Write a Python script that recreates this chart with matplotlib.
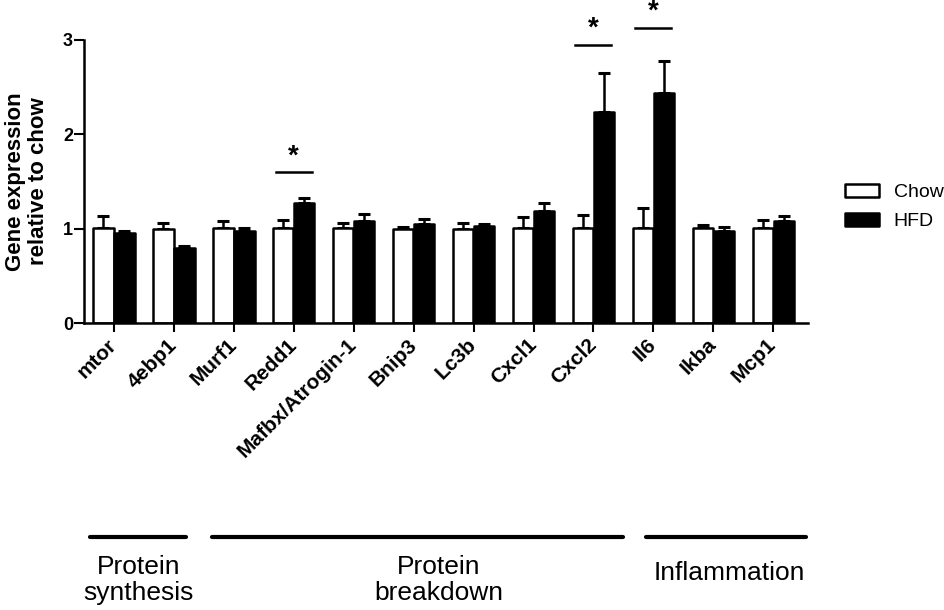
import numpy as np
import matplotlib
matplotlib.use('Agg')
import matplotlib.pyplot as plt
import matplotlib.transforms as mtransforms

plt.rcParams['font.family'] = ['Liberation Sans', 'DejaVu Sans']

genes = ['mtor', '4ebp1', 'Murf1', 'Redd1', 'Mafbx/Atrogin-1', 'Bnip3',
         'Lc3b', 'Cxcl1', 'Cxcl2', 'Il6', 'Ikba', 'Mcp1']
chow = [1.01, 1.00, 1.01, 1.01, 1.01, 1.00, 1.00, 1.01, 1.01, 1.01, 1.01, 1.01]
chow_err = [0.12, 0.06, 0.07, 0.08, 0.05, 0.02, 0.06, 0.11, 0.13, 0.21, 0.03, 0.08]
hfd = [0.95, 0.80, 0.98, 1.27, 1.08, 1.05, 1.03, 1.19, 2.24, 2.44, 0.98, 1.08]
hfd_err = [0.02, 0.02, 0.03, 0.06, 0.08, 0.05, 0.02, 0.08, 0.41, 0.34, 0.04, 0.05]

# significant genes and the height of their bracket line
sig_genes = [3, 8, 9]
sig_line_y = [1.60, 2.95, 3.13]

groups = ['Protein\nsynthesis', 'Protein\nbreakdown', 'Inflammation']
group_start = [0, 2, 9]
group_end = [1, 8, 11]

x = np.arange(len(genes))
w = 0.34
lw = 1.8

fig = plt.figure(figsize=(9.45, 6.1), dpi=100)
ax = fig.add_axes([84/945, 1-323/610, (808-84)/945, (323-40)/610])

b1 = ax.bar(x - 0.175, chow, w, color='white', edgecolor='black', linewidth=lw,
            label='Chow', zorder=2)
b2 = ax.bar(x + 0.175, hfd, w, color='black', edgecolor='black', linewidth=lw,
            label='HFD', zorder=2)
for p in list(b1) + list(b2):
    p.set_joinstyle('round')
ax.errorbar(x - 0.175, chow, yerr=[np.zeros(len(chow)), chow_err], fmt='none',
            ecolor='black', elinewidth=lw, capsize=4, capthick=2.2, zorder=1)
ax.errorbar(x + 0.175, hfd, yerr=[np.zeros(len(hfd)), hfd_err], fmt='none',
            ecolor='black', elinewidth=lw, capsize=4, capthick=2.2, zorder=1)

for i, yl in zip(sig_genes, sig_line_y):
    ax.plot([i - 0.3, i + 0.3], [yl, yl], color='black', lw=1.8, clip_on=False)
    ax.text(i, yl + 0.03, '*', ha='center', va='bottom', fontsize=20,
            fontweight='bold', clip_on=False)

ax.set_xlim(-0.5, 11.58)
ax.set_ylim(0, 3)
ax.set_yticks([0, 1, 2, 3])
ax.set_xticks(x)
ax.set_xticklabels(genes, rotation=45, ha='right', va='center',
                   rotation_mode='anchor', fontsize=15, fontweight='bold')
for lab in ax.get_yticklabels():
    lab.set_fontweight('bold')
    lab.set_fontsize(13)
ax.tick_params(axis='x', length=6.5, width=1.5, pad=7)
ax.tick_params(axis='y', length=7, width=1.5, pad=1)
for s in ['top', 'right']:
    ax.spines[s].set_visible(False)
for s in ['left', 'bottom']:
    ax.spines[s].set_linewidth(1.8)

ax.set_ylabel('Gene expression\nrelative to chow', fontsize=16,
              fontweight='bold', linespacing=1.15)
ax.yaxis.set_label_coords(-0.048, 0.5)

leg = ax.legend(loc='center left', bbox_to_anchor=(845/945, 1-207/610),
                bbox_transform=fig.transFigure, frameon=False, fontsize=14,
                handlelength=1.75, handleheight=0.65, handletextpad=0.75,
                labelspacing=0.6, borderpad=0, borderaxespad=0)
for h in leg.legend_handles:
    h.set_joinstyle('round')

# group brackets under the gene labels
trans = mtransforms.blended_transform_factory(ax.transData, fig.transFigure)
pad_l = [0.4, 0.37, 0.12]
pad_r = [0.21, 0.5, 0.55]
for name, a, b, pl, pr in zip(groups, group_start, group_end, pad_l, pad_r):
    ax.plot([a - pl, b + pr], [1-537/610, 1-537/610], color='black', lw=3,
            solid_capstyle='round', transform=trans, clip_on=False)
    mid = (a - pl + b + pr) / 2
    if '\n' in name:
        ax.text(mid + (0.35 if a == 2 else 0), 1-580/610, name, ha='center',
                va='center', fontsize=19, linespacing=1.1, transform=trans)
    else:
        ax.text(mid + 0.05, 1-573/610, name, ha='center', va='center',
                fontsize=19, transform=trans)

plt.savefig('out.png', dpi=100)
